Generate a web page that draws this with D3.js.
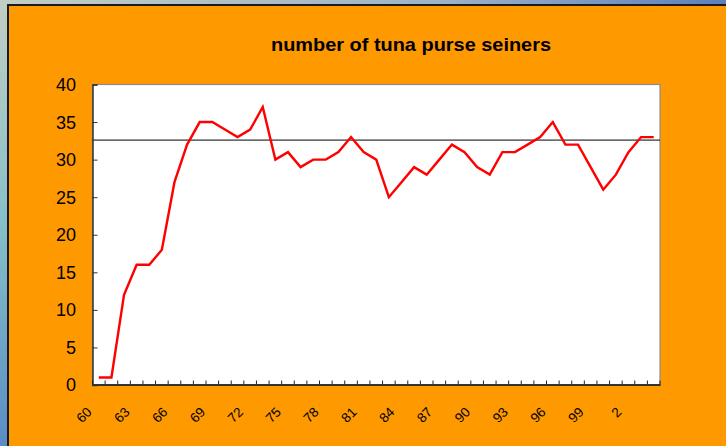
<!DOCTYPE html>
<html>
<head>
<meta charset="utf-8">
<script src="https://cdn.jsdelivr.net/npm/d3@7"></script>
<style>
  html, body { margin: 0; padding: 0; background: #fff; }
  svg { display: block; }
</style>
</head>
<body>
<svg id="chart" width="726" height="446"></svg>
<script>
// data
const years = d3.range(1960, 2005);
const seiners = [1, 1, 12, 16, 16, 18, 27, 32, 35, 35,
  34, 33, 34, 37, 30, 31, 29, 30, 30, 31,
  33, 31, 30, 25, 27, 29, 28, 30, 32, 31,
  29, 28, 31, 31, 32, 33, 35, 32, 32, 29,
  26, 28, 31, 33, 33];
const yTicks = [0, 5, 10, 15, 20, 25, 30, 35, 40];
const labelYears = [1960, 1963, 1966, 1969, 1972, 1975, 1978, 1981, 1984, 1987, 1990, 1993, 1996, 1999, 2002];
const refLevel = 32.6;
const title = "number of tuna purse seiners";

const width = 726, height = 446;
const margin = { left: 92.5, top: 84.5, right: 66, bottom: 61 };

const svg = d3.select("#chart");
const defs = svg.append("defs");

// background outside the orange panel
const gTop = defs.append("linearGradient").attr("id", "topGrad");
gTop.append("stop").attr("offset", "0%").attr("stop-color", "#c2cec4");
gTop.append("stop").attr("offset", "60%").attr("stop-color", "#9eb4c8");
gTop.append("stop").attr("offset", "100%").attr("stop-color", "#5c80bc");
const gLeft = defs.append("linearGradient").attr("id", "leftGrad")
  .attr("x1", 0).attr("y1", 0).attr("x2", 0).attr("y2", 1);
gLeft.append("stop").attr("offset", "0%").attr("stop-color", "#c2cec4");
gLeft.append("stop").attr("offset", "50%").attr("stop-color", "#86c0c8");
gLeft.append("stop").attr("offset", "100%").attr("stop-color", "#5a8cc4");

svg.append("rect").attr("width", width).attr("height", height).attr("fill", "url(#leftGrad)");
svg.append("rect").attr("width", width).attr("height", 6).attr("fill", "url(#topGrad)");
svg.append("rect").attr("x", 7).attr("y", 4).attr("width", width).attr("height", height)
  .attr("fill", "#1a1a1a");
svg.append("rect").attr("x", 9).attr("y", 6).attr("width", width).attr("height", height)
  .attr("fill", "#ff9900");

// title
svg.append("text")
  .attr("x", 411).attr("y", 50.5)
  .attr("text-anchor", "middle")
  .attr("font-family", "Liberation Sans, Arial, sans-serif")
  .attr("font-weight", "bold")
  .attr("font-size", 18.5)
  .attr("textLength", 280)
  .attr("lengthAdjust", "spacingAndGlyphs")
  .text(title);

const x = d3.scaleBand()
  .domain(years)
  .range([margin.left, width - margin.right]);
const y = d3.scaleLinear()
  .domain([0, 40])
  .range([height - margin.bottom, margin.top]);

const plotW = width - margin.right - margin.left;
const plotH = height - margin.bottom - margin.top;

// plot area
svg.append("rect")
  .attr("x", margin.left).attr("y", margin.top)
  .attr("width", plotW).attr("height", plotH)
  .attr("fill", "#fff")
  .attr("stroke", "#8c8c8c")
  .attr("stroke-width", 1.2);

// reference line
svg.append("line")
  .attr("x1", margin.left).attr("x2", width - margin.right)
  .attr("y1", y(refLevel)).attr("y2", y(refLevel))
  .attr("stroke", "#000").attr("stroke-width", 1);

// data line
const line = d3.line()
  .x((d, i) => x(years[i]) + x.bandwidth() / 2)
  .y(d => y(d));
svg.append("path")
  .datum(seiners)
  .attr("d", line)
  .attr("fill", "none")
  .attr("stroke", "#ff0000")
  .attr("stroke-width", 2.4)
  .attr("stroke-linejoin", "miter");

// y axis
const yAxis = svg.append("g")
  .attr("transform", `translate(${margin.left},0)`)
  .call(d3.axisRight(y).tickValues(yTicks).tickSize(5).tickFormat(""));
yAxis.select(".domain").attr("stroke", "#333").attr("stroke-width", 1.5);
yAxis.selectAll(".tick line").attr("stroke", "#333");
svg.append("g").selectAll("text")
  .data(yTicks)
  .join("text")
  .attr("x", 76)
  .attr("y", d => y(d))
  .attr("dy", "0.36em")
  .attr("text-anchor", "end")
  .attr("font-family", "Liberation Sans, Arial, sans-serif")
  .attr("font-size", 18)
  .attr("fill", "#000")
  .text(d => d);

// x axis: ticks between categories, pointing inward
const bounds = years.map(d => x(d)).concat([width - margin.right]);
const xAxis = svg.append("g");
xAxis.selectAll("line.tk")
  .data(bounds)
  .join("line")
  .attr("class", "tk")
  .attr("x1", d => d).attr("x2", d => d)
  .attr("y1", y(0)).attr("y2", y(0) - 4.5)
  .attr("stroke", "#222").attr("stroke-width", 1);
xAxis.append("line")
  .attr("x1", margin.left - 0.5).attr("x2", width - margin.right + 0.5)
  .attr("y1", y(0)).attr("y2", y(0))
  .attr("stroke", "#333").attr("stroke-width", 1.8);

xAxis.selectAll("text")
  .data(labelYears)
  .join("text")
  .attr("transform", d => `translate(${x(d) + x.bandwidth() / 2 - 9.5},${y(0) + 24.5}) rotate(-45)`)
  .attr("dy", "0.35em")
  .attr("text-anchor", "end")
  .attr("font-family", "Liberation Sans, Arial, sans-serif")
  .attr("font-size", 13.5)
  .attr("fill", "#000")
  .text(d => String(d % 100));
</script>
</body>
</html>
